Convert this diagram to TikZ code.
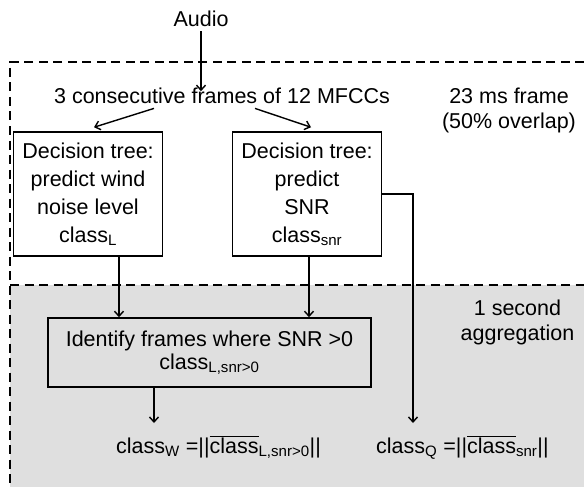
\documentclass[tikz,border=0pt]{standalone}
\usepackage{fontspec}
\setmainfont{Liberation Sans}
\usetikzlibrary{arrows.meta,calc,positioning}

\begin{document}
\begin{tikzpicture}[x=1pt,y=-1pt,
	txt/.style={font=\fontsize{21.5}{24.5}\selectfont,inner sep=0pt,align=center},
	treebox/.style={draw,line width=1.5pt,inner sep=0pt,minimum width=149pt,minimum height=124pt,align=center,font=\fontsize{21.5}{28}\selectfont},
	arr/.style={line width=1.4pt,-{Straight Barb[length=5pt,width=9pt]}},
	dashframe/.style={line width=1.4pt,dash pattern=on 9pt off 5.5pt}]
	\useasboundingbox (0,0) rectangle (584,487);
	% 1 second part
	\fill[gray!25] (10,285) rectangle (584,487);
	\draw[dashframe] (584,62) -- (10,62) -- (10,487);
	\draw[dashframe] (10,285) -- (584,285);

	\node[txt,anchor=base] (audio) at (201,27) {Audio};
	\node[txt,anchor=base] (mfcc) at (222,103) {3 consecutive frames of 12 MFCCs};
	\node[txt,anchor=north] (ms) at (509,88) {23 ms frame\\(50\% overlap)};
	\node[treebox] (ltree) at (88,194) {Decision tree:\\predict wind\\noise level\\class\textsubscript{L}};
	\node[treebox] (rtree) at (307,194) {Decision tree:\\predict\\SNR\\class\textsubscript{snr}};
	\node[txt,anchor=north] (agg) at (517.5,300) {1 second\\aggregation};
	\node[treebox,minimum width=323pt,minimum height=69pt,font=\fontsize{21.5}{23}\selectfont] (idbox) at (209.5,352.5) {Identify frames where SNR >0\\class\textsubscript{L,snr>0}};
	\node[txt,anchor=base west] (classw) at (116,453) {class\textsubscript{W} =||$\overline{\mbox{class}}$\textsubscript{L,snr>0}||};
	\node[txt,anchor=base west] (classq) at (376,453) {class\textsubscript{Q} =||$\overline{\mbox{class}}$\textsubscript{snr}||};

	\coordinate (lj) at (119,0);
	\coordinate (rj) at (309,0);
	\coordinate (win) at (154,423);
	\coordinate (qin) at (413,423);

	\draw[arr,shorten <=4pt,shorten >=-4pt] (audio.south) -- (audio.south |- mfcc.north);
	\draw[arr] ($(mfcc.south)+(-68,5)$) -- ($(ltree.north)+(6,-4)$);
	\draw[arr] ($(mfcc.south)+(33,5)$) -- ($(rtree.north)+(4,-4)$);
	\draw[arr] (ltree.south -| lj) -- (idbox.north -| lj);
	\draw[arr] (rtree.south -| rj) -- (idbox.north -| rj);
	\draw[arr] (idbox.south -| win) -- (win);
	\draw[arr] (rtree.east) -| (qin);
\end{tikzpicture}
\end{document}
